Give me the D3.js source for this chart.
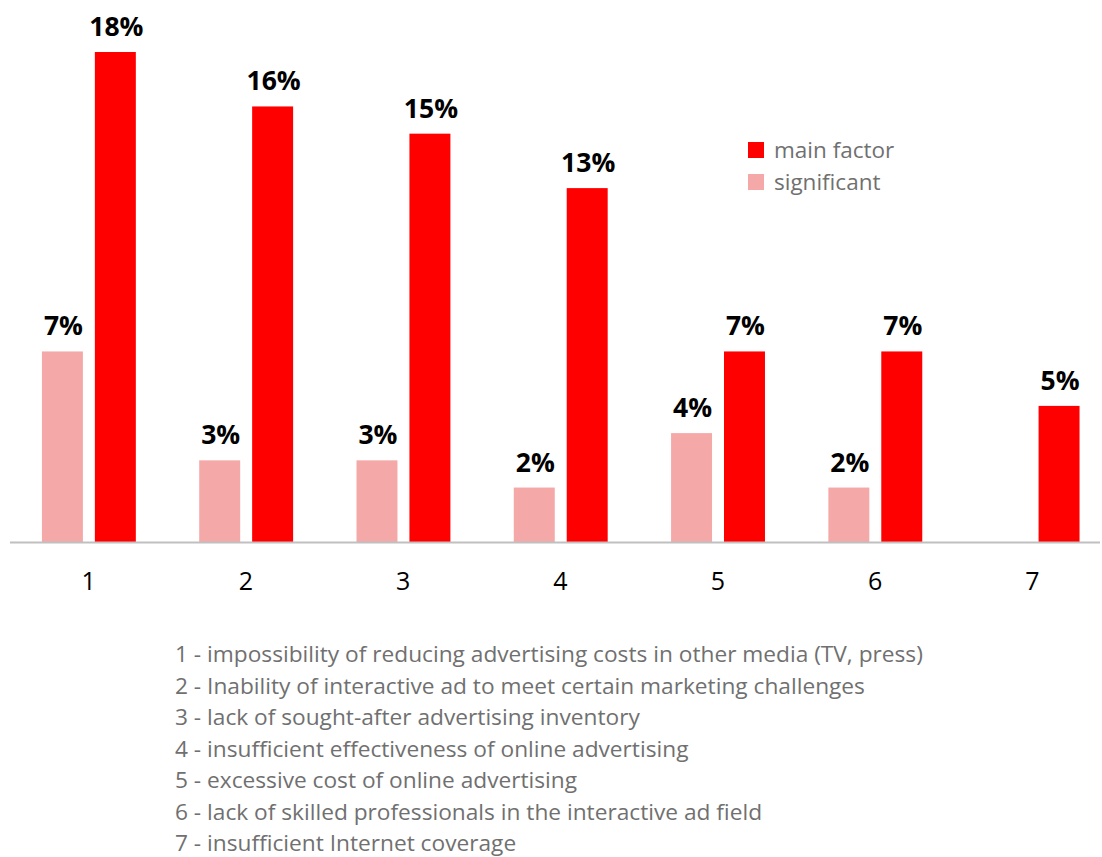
<!DOCTYPE html>
<html>
<head>
<meta charset="utf-8">
<script src="https://cdn.jsdelivr.net/npm/d3@7"></script>
<style>
  body { margin: 0; background: #fff; }
  svg { display: block; font-family: "Open Sans", sans-serif; }
</style>
</head>
<body>
<div id="chart"></div>
<script>
// data
var categories = ["1", "2", "3", "4", "5", "6", "7"];
var mainFactor = [18, 16, 15, 13, 7, 7, 5];
var significant = [7, 3, 3, 2, 4, 2, 0];
var notes = [
  "1 - impossibility of reducing advertising costs in other media (TV, press)",
  "2 - Inability of interactive ad to meet certain marketing challenges",
  "3 - lack of sought-after advertising inventory",
  "4 - insufficient effectiveness of online advertising",
  "5 - excessive cost of online advertising",
  "6 - lack of skilled professionals in the interactive ad field",
  "7 - insufficient Internet coverage"
];
var seriesNames = ["significant", "main factor"];
var colors = {"significant": "#f5a8a8", "main factor": "#ff0000"};

var width = 1102, height = 857;
var baseline = 542;

var data = categories.map(function(c, i) {
  return {cat: c, values: [
    {key: "significant", value: significant[i]},
    {key: "main factor", value: mainFactor[i]}
  ]};
});

var svg = d3.select("#chart").append("svg")
  .attr("width", width)
  .attr("height", height);

var x0 = d3.scaleBand()
  .domain(categories)
  .range([10, 1111]);

var x1 = d3.scaleBand()
  .domain(seriesNames)
  .range([x0.bandwidth() * 0.203, x0.bandwidth() * 0.8])
  .paddingInner(0.226);

var y = d3.scaleLinear()
  .domain([0, 18])
  .range([baseline, 52]);

var group = svg.selectAll(".group")
  .data(data)
  .enter().append("g")
  .attr("class", "group")
  .attr("transform", function(d) { return "translate(" + x0(d.cat) + ",0)"; });

var bars = group.selectAll(".bar")
  .data(function(d) { return d.values.filter(function(v) { return v.value > 0; }); })
  .enter();

bars.append("rect")
  .attr("x", function(d) { return x1(d.key); })
  .attr("y", function(d) { return y(d.value); })
  .attr("width", x1.bandwidth())
  .attr("height", function(d) { return baseline - y(d.value); })
  .attr("fill", function(d) { return colors[d.key]; });

bars.append("text")
  .attr("x", function(d) { return x1(d.key) + x1.bandwidth() / 2 + 1; })
  .attr("y", function(d) { return y(d.value) - 16; })
  .attr("text-anchor", "middle")
  .attr("font-weight", 700)
  .attr("font-size", "26.5px")
  .attr("fill", "#000")
  .text(function(d) { return d.value + "%"; });

// axis
var xAxis = d3.axisBottom(x0).tickSize(0).tickPadding(30);
var axisG = svg.append("g")
  .attr("transform", "translate(0," + baseline + ")")
  .call(xAxis);
axisG.select(".domain")
  .attr("d", "M10,0.5H1100")
  .attr("stroke", "#c0c0c0")
  .attr("stroke-width", 2);
axisG.selectAll(".tick text")
  .attr("font-size", "25px")
  .attr("font-family", "Open Sans, sans-serif")
  .attr("fill", "#000");

// legend
var legend = svg.append("g").attr("transform", "translate(748,142)");
["main factor", "significant"].forEach(function(k, i) {
  legend.append("rect")
    .attr("x", 0).attr("y", i * 32)
    .attr("width", 16).attr("height", 16)
    .attr("fill", colors[k]);
  legend.append("text")
    .attr("x", 26).attr("y", i * 32 + 16)
    .attr("font-size", "22.5px")
    .attr("fill", "#707070")
    .text(k);
});

// notes
svg.append("g").selectAll("text")
  .data(notes)
  .enter().append("text")
  .attr("x", 175)
  .attr("y", function(d, i) { return 662 + i * 31.5; })
  .attr("font-size", "22.7px")
  .attr("fill", "#707070")
  .text(function(d) { return d; });
</script>
</body>
</html>
